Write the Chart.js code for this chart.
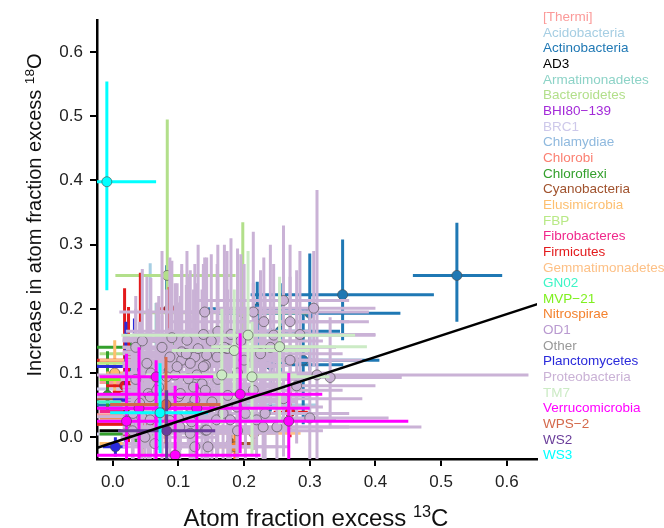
<!DOCTYPE html>
<html lang="en">
<head>
  <meta charset="UTF-8">
  <title>Atom fraction excess 13C vs 18O</title>
  <script src="https://cdn.jsdelivr.net/npm/chart.js"></script>
  <style>
    body {
      margin: 0;
      background: #fff;
      font-family: "Liberation Sans", Arial, sans-serif;
    }
    .wrap {
      position: relative;
      width: 664px;
      height: 528px;
      overflow: hidden;
    }
    canvas {
      position: absolute;
      left: 0;
      top: 0;
    }
    .xtitle {
      position: absolute;
      left: 0;
      width: 632px;
      top: 506px;
      text-align: center;
      font-size: 24px;
      line-height: 23px;
      color: #111;
      white-space: nowrap;
    }
    .ytitle {
      position: absolute;
      left: -166px;
      top: 204px;
      width: 400px;
      height: 22px;
      text-align: center;
      font-size: 20px;
      line-height: 22px;
      color: #111;
      white-space: nowrap;
      transform: rotate(-90deg);
    }
    sup {
      font-size: 0.68em;
      line-height: 0;
      vertical-align: 0.55em;
    }
    .legend {
      position: absolute;
      left: 543px;
      top: 9px;
      font-size: 13.5px;
      line-height: 15.65px;
      white-space: nowrap;
    }
  </style>
</head>
<body>
  <div class="wrap">
    <canvas id="chart" width="664" height="528"></canvas>
    <div class="ytitle">Increase in atom fraction excess <sup>18</sup>O</div>
    <div class="xtitle">Atom fraction excess <sup>13</sup>C</div>
    <div class="legend" id="legend"></div>
  </div>

  <script>
    // axis ticks
    const xTicks = [0, 0.1, 0.2, 0.3, 0.4, 0.5, 0.6];
    const yTicks = [0, 0.1, 0.2, 0.3, 0.4, 0.5, 0.6];

    const phyla = ['[Thermi]', 'Acidobacteria', 'Actinobacteria', 'AD3', 'Armatimonadetes',
      'Bacteroidetes', 'BHI80\u2212139', 'BRC1', 'Chlamydiae', 'Chlorobi', 'Chloroflexi',
      'Cyanobacteria', 'Elusimicrobia', 'FBP', 'Fibrobacteres', 'Firmicutes',
      'Gemmatimonadetes', 'GN02', 'MVP\u221221', 'Nitrospirae', 'OD1', 'Other',
      'Planctomycetes', 'Proteobacteria', 'TM7', 'Verrucomicrobia', 'WPS\u22122', 'WS2', 'WS3'];

    const colors = ['#fb9a99', '#a6cee3', '#1f78b4', '#000000', '#8dd3c7',
      '#b2df8a', '#a32ad8', '#cdc8ea', '#8fb9de', '#fb8072', '#33a02c',
      '#a0522d', '#fdbf6f', '#b8e986', '#f0288c', '#e31a1c',
      '#fdc086', '#3df5c6', '#80f020', '#f4822e', '#b99ad0', '#999999',
      '#2a2adb', '#cab2d6', '#ccebc5', '#ff00ff', '#d4694b', '#6a3d9a', '#00ffff'];

    // each row: [x, y, xLow, xHigh, yLow, yHigh]
    const thermi = [[0.035, 0.035, -0.025, 0.070, 0.015, 0.055], [0.030, 0.085, -0.020, 0.065, 0.070, 0.100]];
    const acidobacteria = [[0.057, 0.100, 0.030, 0.090, 0.020, 0.271], [0.150, 0.050, 0.020, 0.310, 0.030, 0.070],
      [0.035, 0.060, -0.025, 0.080, 0.045, 0.080]];
    const actinobacteria = [
      [0.524, 0.252, 0.457, 0.593, 0.180, 0.334],
      [0.350, 0.222, 0.210, 0.489, 0.151, 0.308],
      [0.300, 0.193, 0.160, 0.438, 0.104, 0.286],
      [0.255, 0.165, 0.170, 0.346, 0.090, 0.240],
      [0.290, 0.120, 0.180, 0.406, 0.020, 0.200],
      [0.240, 0.113, 0.130, 0.351, 0.040, 0.170],
      [0.082, 0.100, 0.040, 0.130, 0.020, 0.268],
      [0.220, 0.200, 0.140, 0.310, 0.120, 0.242],
      [0.035, 0.050, -0.025, 0.070, 0.035, 0.065],
      [0.030, 0.110, -0.030, 0.060, 0.095, 0.125]
    ];
    const ad3 = [[0.035, 0.010, -0.020, 0.060, -0.005, 0.025]];
    const armatimonadetes = [[0.066, 0.070, 0.030, 0.100, 0.000, 0.209]];
    const bacteroidetes = [[0.083, 0.252, 0.004, 0.187, 0.060, 0.495], [0.198, 0.194, 0.040, 0.300, 0.100, 0.335],
      [0.035, 0.130, -0.020, 0.070, 0.110, 0.150]];
    const bhi80 = [[0.040, 0.045, -0.020, 0.070, 0.030, 0.060]];
    const brc1 = [[0.035, 0.075, -0.025, 0.060, 0.060, 0.090], [0.030, 0.005, -0.025, 0.050, -0.010, 0.020]];
    const chlamydiae = [[0.040, 0.095, -0.020, 0.075, 0.080, 0.110]];
    const chlorobi = [[0.035, 0.020, -0.025, 0.060, 0.005, 0.035]];
    const chloroflexi = [[-0.008, 0.065, -0.030, 0.035, 0.040, 0.134], [0.097, 0.150, 0.060, 0.130, 0.100, 0.182],
      [0.035, 0.005, -0.020, 0.065, -0.015, 0.025], [0.030, 0.140, -0.025, 0.055, 0.125, 0.155]];
    const cyanobacteria = [[0.180, -0.010, 0.155, 0.215, -0.025, 0.005], [0.035, 0.060, -0.025, 0.070, 0.045, 0.075]];
    const elusimicrobia = [[0.003, 0.100, -0.010, 0.020, 0.060, 0.151], [0.045, -0.010, -0.020, 0.080, -0.030, 0.010]];
    const fbp = [[0.035, 0.115, -0.025, 0.065, 0.100, 0.130]];
    const fibrobacteres = [[0.040, 0.040, -0.020, 0.070, 0.025, 0.055]];
    const firmicutes = [
      [0.018, 0.080, -0.010, 0.050, 0.000, 0.232],
      [0.024, 0.070, 0.000, 0.060, -0.010, 0.203],
      [0.042, 0.090, 0.010, 0.080, 0.000, 0.256],
      [0.086, 0.200, 0.070, 0.100, 0.150, 0.234],
      [0.270, 0.039, 0.245, 0.297, 0.000, 0.080],
      [0.035, 0.020, -0.025, 0.070, 0.000, 0.040],
      [0.030, 0.120, -0.025, 0.060, 0.105, 0.135]
    ];
    const gemmatimonadetes = [[0.215, 0.006, 0.148, 0.286, -0.020, 0.030], [0.040, 0.120, -0.020, 0.075, 0.105, 0.135]];
    const gn02 = [[0.035, 0.055, -0.025, 0.060, 0.040, 0.070]];
    const mvp21 = [[0.035, 0.090, -0.020, 0.060, 0.075, 0.105]];
    const nitrospirae = [[0.186, -0.015, 0.160, 0.215, -0.040, 0.005], [0.040, 0.030, -0.020, 0.075, 0.015, 0.045]];
    const od1 = [[0.040, 0.065, -0.020, 0.070, 0.050, 0.080]];
    const other = [[0.035, 0.025, -0.020, 0.060, 0.010, 0.040]];
    const planctomycetes = [
      [0.004, -0.015, -0.015, 0.020, -0.030, 0.000],
      [0.020, 0.060, 0.000, 0.040, -0.010, 0.180],
      [0.033, 0.070, 0.020, 0.050, 0.000, 0.185],
      [0.035, 0.110, -0.025, 0.060, 0.095, 0.125]
    ];
    const proteobacteria = [
      [0.052, 0.115, 0.015, 0.170, 0.030, 0.250],
      [0.087, 0.125, 0.020, 0.200, 0.040, 0.280],
      [0.105, 0.120, 0.020, 0.220, 0.020, 0.260],
      [0.125, 0.125, 0.030, 0.240, 0.050, 0.270],
      [0.141, 0.112, 0.020, 0.270, 0.000, 0.250],
      [0.095, 0.097, -0.030, 0.210, 0.000, 0.240],
      [0.115, 0.091, 0.015, 0.250, -0.010, 0.250],
      [0.136, 0.083, 0.030, 0.260, -0.040, 0.230],
      [0.070, 0.078, 0.015, 0.190, -0.020, 0.220],
      [0.054, 0.068, 0.012, 0.160, -0.040, 0.200],
      [0.100, 0.063, 0.015, 0.230, -0.040, 0.210],
      [0.125, 0.058, 0.020, 0.280, -0.050, 0.190],
      [0.044, 0.032, -0.030, 0.150, -0.060, 0.170],
      [0.100, 0.029, 0.015, 0.240, -0.060, 0.180],
      [0.120, 0.024, 0.015, 0.260, -0.060, 0.170],
      [0.141, 0.011, 0.015, 0.280, -0.070, 0.150],
      [0.049, 0.000, 0.012, 0.160, -0.070, 0.120],
      [0.064, -0.010, 0.015, 0.180, -0.070, 0.100],
      [0.125, -0.015, 0.015, 0.250, -0.070, 0.100],
      [0.145, -0.015, 0.030, 0.270, -0.070, 0.110],
      [0.113, 0.151, 0.015, 0.230, 0.070, 0.290],
      [0.130, 0.138, 0.020, 0.250, 0.050, 0.300],
      [0.105, 0.133, 0.015, 0.230, 0.060, 0.270],
      [0.143, 0.128, 0.040, 0.260, 0.040, 0.280],
      [0.159, 0.125, 0.050, 0.280, 0.040, 0.270],
      [0.174, 0.138, 0.060, 0.300, 0.060, 0.290],
      [0.118, 0.115, 0.015, 0.240, 0.030, 0.260],
      [0.138, 0.110, 0.020, 0.260, 0.020, 0.260],
      [0.098, 0.110, 0.015, 0.220, 0.020, 0.240],
      [0.082, 0.094, 0.012, 0.200, 0.010, 0.230],
      [0.128, 0.097, 0.015, 0.250, 0.010, 0.240],
      [0.067, 0.073, 0.015, 0.180, -0.020, 0.210],
      [0.057, 0.063, -0.030, 0.170, -0.030, 0.190],
      [0.103, 0.068, 0.015, 0.220, -0.020, 0.220],
      [0.123, 0.078, 0.015, 0.250, -0.010, 0.230],
      [0.141, 0.073, 0.020, 0.270, -0.020, 0.220],
      [0.151, 0.055, 0.030, 0.280, -0.040, 0.200],
      [0.118, 0.047, 0.015, 0.240, -0.040, 0.190],
      [0.041, 0.053, 0.012, 0.150, -0.040, 0.180],
      [0.031, 0.037, 0.015, 0.140, -0.050, 0.160],
      [0.057, 0.027, 0.015, 0.170, -0.060, 0.160],
      [0.087, 0.026, 0.015, 0.210, -0.060, 0.170],
      [0.102, 0.016, 0.015, 0.230, -0.060, 0.160],
      [0.118, 0.006, 0.015, 0.250, -0.070, 0.140],
      [0.143, 0.011, 0.030, 0.270, -0.070, 0.150],
      [0.158, 0.027, 0.040, 0.290, -0.060, 0.170],
      [0.168, 0.037, 0.050, 0.300, -0.050, 0.180],
      [0.179, 0.027, 0.060, 0.310, -0.060, 0.170],
      [0.189, 0.047, 0.070, 0.320, -0.040, 0.190],
      [0.202, 0.037, 0.080, 0.330, -0.050, 0.200],
      [0.219, 0.027, 0.100, 0.340, -0.060, 0.190],
      [0.229, 0.016, 0.110, 0.360, -0.060, 0.180],
      [0.232, 0.037, 0.120, 0.360, -0.050, 0.220],
      [0.214, 0.073, 0.090, 0.350, -0.020, 0.240],
      [0.214, 0.195, 0.100, 0.390, 0.100, 0.320],
      [0.230, 0.180, 0.090, 0.360, 0.090, 0.280],
      [0.245, 0.159, 0.120, 0.400, 0.070, 0.270],
      [0.260, 0.213, 0.130, 0.360, 0.120, 0.330],
      [0.306, 0.201, 0.160, 0.400, 0.110, 0.290],
      [0.311, 0.097, 0.050, 0.633, -0.040, 0.385],
      [0.331, 0.093, 0.200, 0.440, 0.014, 0.187],
      [0.250, 0.016, 0.030, 0.470, -0.060, 0.150],
      [0.170, 0.140, 0.050, 0.290, 0.050, 0.300],
      [0.138, 0.160, 0.030, 0.250, 0.080, 0.270],
      [0.058, 0.100, 0.015, 0.170, 0.010, 0.248],
      [0.112, 0.130, 0.015, 0.250, 0.030, 0.237],
      [0.190, 0.100, 0.080, 0.330, 0.000, 0.294],
      [0.270, 0.120, 0.170, 0.380, 0.030, 0.250],
      [0.140, 0.195, 0.010, 0.300, 0.120, 0.280],
      [0.035, 0.140, 0.015, 0.120, 0.060, 0.220],
      [0.045, 0.150, 0.015, 0.130, 0.080, 0.262],
      [0.075, 0.140, 0.015, 0.180, 0.050, 0.290],
      [0.090, 0.155, 0.015, 0.190, 0.090, 0.275],
      [0.150, 0.150, 0.040, 0.280, 0.060, 0.285],
      [0.160, 0.165, 0.020, 0.300, 0.100, 0.300],
      [0.180, 0.160, 0.060, 0.330, 0.080, 0.310],
      [0.195, 0.150, 0.080, 0.320, 0.060, 0.285],
      [0.240, 0.140, 0.120, 0.340, 0.050, 0.300],
      [0.270, 0.180, 0.160, 0.390, 0.090, 0.300],
      [0.285, 0.160, 0.180, 0.400, 0.070, 0.290],
      [0.200, 0.120, 0.070, 0.320, 0.040, 0.270],
      [0.225, 0.130, 0.100, 0.350, 0.030, 0.260],
      [0.035, 0.090, 0.012, 0.130, 0.000, 0.200],
      [0.030, 0.010, 0.012, 0.120, -0.060, 0.130],
      [0.075, 0.045, 0.015, 0.190, -0.050, 0.190],
      [0.160, 0.090, 0.040, 0.290, -0.030, 0.250],
      [0.175, 0.065, 0.060, 0.300, -0.040, 0.230],
      [0.190, 0.010, 0.070, 0.320, -0.070, 0.160],
      [0.260, 0.060, 0.150, 0.380, -0.030, 0.200],
      [0.280, 0.080, 0.170, 0.400, -0.010, 0.260],
      [0.300, 0.030, 0.200, 0.420, -0.050, 0.200]
    ];
    const tm7 = [
      [0.166, 0.097, 0.050, 0.280, 0.020, 0.200],
      [0.185, 0.135, 0.090, 0.300, 0.060, 0.230],
      [0.206, 0.159, 0.013, 0.369, 0.090, 0.290],
      [0.254, 0.141, 0.150, 0.387, 0.020, 0.250],
      [0.212, 0.094, 0.100, 0.330, -0.030, 0.180]
    ];
    const verrucomicrobia = [
      [0.194, 0.067, -0.030, 0.319, -0.025, 0.162],
      [0.268, 0.025, 0.090, 0.450, -0.040, 0.100],
      [0.021, 0.025, -0.040, 0.090, -0.040, 0.130],
      [0.095, -0.028, -0.040, 0.225, -0.060, 0.080],
      [0.040, 0.045, -0.030, 0.160, -0.040, 0.140],
      [0.066, 0.094, -0.020, 0.153, -0.040, 0.120],
      [0.128, 0.045, 0.020, 0.300, -0.040, 0.084]
    ];
    const wps2 = [[0.081, 0.051, -0.004, 0.164, -0.010, 0.125]];
    const ws2 = [[0.082, 0.010, 0.008, 0.156, -0.040, 0.073]];
    const ws3 = [[-0.009, 0.398, -0.080, 0.066, 0.229, 0.554], [0.072, 0.038, -0.004, 0.145, -0.025, 0.115]];

    const phylumData = [thermi, acidobacteria, actinobacteria, ad3, armatimonadetes,
      bacteroidetes, bhi80, brc1, chlamydiae, chlorobi, chloroflexi,
      cyanobacteria, elusimicrobia, fbp, fibrobacteres, firmicutes,
      gemmatimonadetes, gn02, mvp21, nitrospirae, od1, other,
      planctomycetes, proteobacteria, tm7, verrucomicrobia, wps2, ws2, ws3];

    // fitted line, end points
    const fitX = [-0.03, 0.65];
    const fitY = [-0.0187, 0.2084];

    // legend as html text
    const legend = document.getElementById('legend');
    phyla.forEach((name, i) => {
      const d = document.createElement('div');
      d.textContent = name;
      d.style.color = colors[i];
      legend.appendChild(d);
    });

    // draws each taxon's error bars right before its points
    const errorBars = {
      id: 'errorBars',
      beforeDatasetDraw(chart, args) {
        const ds = chart.data.datasets[args.index];
        if (!ds.errs) return;
        const { ctx, chartArea: a } = chart;
        const x = chart.scales.x, y = chart.scales.y;
        ctx.save();
        ctx.beginPath();
        ctx.rect(a.left, a.top, a.right - a.left, a.bottom - a.top);
        ctx.clip();
        ctx.strokeStyle = ds.pointBackgroundColor;
        ctx.lineWidth = 3;
        ds.errs.forEach(p => {
          const px = x.getPixelForValue(p[0]);
          const py = y.getPixelForValue(p[1]);
          ctx.beginPath();
          ctx.moveTo(x.getPixelForValue(p[2]), py);
          ctx.lineTo(x.getPixelForValue(p[3]), py);
          ctx.moveTo(px, y.getPixelForValue(p[4]));
          ctx.lineTo(px, y.getPixelForValue(p[5]));
          ctx.stroke();
        });
        ctx.restore();
      }
    };

    const datasets = phyla.map((name, i) => ({
      label: name,
      data: phylumData[i].map(p => ({ x: p[0], y: p[1] })),
      errs: phylumData[i],
      pointBackgroundColor: colors[i],
      pointBorderColor: 'rgba(70, 70, 70, 0.6)',
      pointBorderWidth: 1,
      pointRadius: 5,
      order: phyla.length - i
    }));

    datasets.push({
      label: 'fit',
      data: fitX.map((v, i) => ({ x: v, y: fitY[i] })),
      showLine: true,
      borderColor: '#000',
      borderWidth: 2.5,
      pointRadius: 0,
      order: 0
    });

    const font = { family: '"Liberation Sans", Arial, sans-serif', size: 17 };

    new Chart(document.getElementById('chart'), {
      type: 'scatter',
      data: { datasets },
      options: {
        responsive: false,
        animation: false,
        devicePixelRatio: 1,
        layout: { padding: { top: 20, right: 127, left: 0, bottom: 0 } },
        plugins: { legend: { display: false }, tooltip: { enabled: false } },
        scales: {
          x: {
            type: 'linear',
            min: -0.024,
            max: 0.646,
            z: 1,
            afterFit: s => { s.height = 69; },
            afterBuildTicks: s => { s.ticks = xTicks.map(v => ({ value: v })); },
            ticks: { font, color: '#222', padding: 6, maxRotation: 0, callback: v => v.toFixed(1) },
            grid: { drawOnChartArea: false, drawTicks: true, tickLength: 7, color: '#000', lineWidth: 2 },
            border: { display: true, color: '#000', width: 2.5 }
          },
          y: {
            type: 'linear',
            min: -0.034,
            max: 0.65,
            z: 1,
            afterFit: s => { s.width = 97; },
            afterBuildTicks: s => { s.ticks = yTicks.map(v => ({ value: v })); },
            ticks: { font, color: '#222', padding: 7, callback: v => v.toFixed(1) },
            grid: { drawOnChartArea: false, drawTicks: true, tickLength: 7, color: '#000', lineWidth: 2 },
            border: { display: true, color: '#000', width: 2.5 }
          }
        }
      },
      plugins: [errorBars]
    });
  </script>
</body>
</html>
